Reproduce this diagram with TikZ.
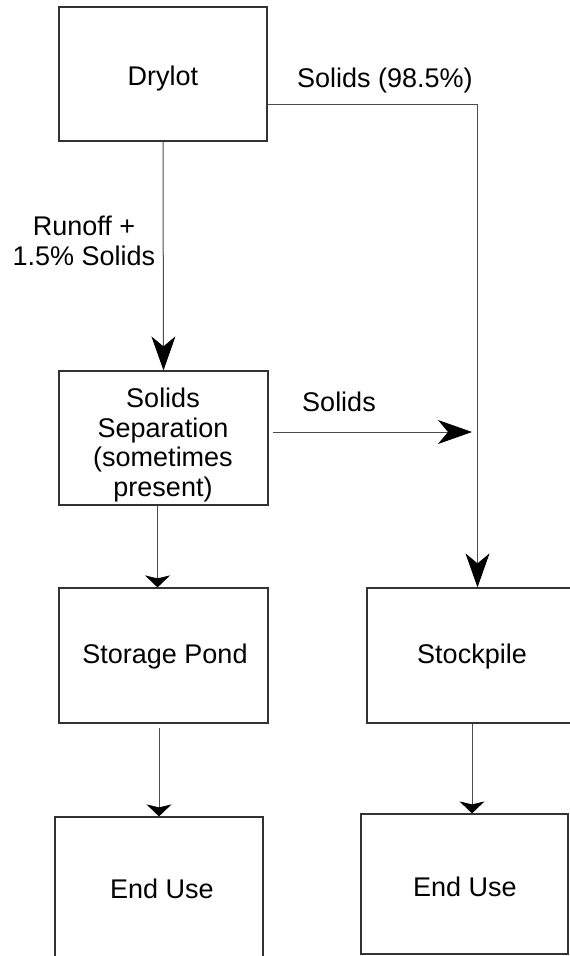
\documentclass[tikz,border=0pt]{standalone}
\usepackage{fontspec}
\setmainfont{Liberation Sans}
\usetikzlibrary{arrows.meta,calc}

\tikzset{
  procbox/.style={draw=black!80, line width=1.2pt, fill=white, inner sep=0pt},
  boxtext/.style={align=center, inner sep=0pt, font=\fontsize{27}{29.5}\selectfont},
  flow/.style={draw=black!70, line width=1pt},
  bigtip/.style={flow, -{Stealth[length=34pt,width=24pt,inset=10pt,color=black]}},
  smalltip/.style={flow, -{Stealth[length=12pt,width=25pt,inset=3pt,color=black]}},
  lbl/.style={align=center, inner sep=0pt, font=\fontsize{27}{30}\selectfont}
}

\begin{document}
\begin{tikzpicture}[x=1pt, y=-1pt]
  \useasboundingbox (0,0) rectangle (570,956);
  \clip (0,0) rectangle (570,956);
  \fill[white] (0,0) rectangle (570,956);

  % process boxes
  \node[procbox, minimum width=208pt, minimum height=134pt] (drylot) at (163,74) {};
  \node[procbox, minimum width=209pt, minimum height=134pt] (sep) at (163.5,438) {};
  \node[procbox, minimum width=209pt, minimum height=135pt] (pond) at (163.5,655.5) {};
  \node[procbox, minimum width=230pt, minimum height=135pt] (stock) at (482,655.5) {};
  \node[procbox, minimum width=208pt, minimum height=180pt] (useL) at (159,907) {};
  \node[procbox, minimum width=207pt, minimum height=140pt] (useR) at (464.5,884) {};

  % box captions
  \node[boxtext] (drylotTxt) at (163,79) {Drylot};
  \node[boxtext] (sepTxt) at (163,445) {Solids\\Separation\\(sometimes\\present)};
  \node[boxtext] (pondTxt) at (165,657) {Storage Pond};
  \node[boxtext] (stockTxt) at (472,657) {Stockpile};
  \node[boxtext] (useLTxt) at (162,889) {End Use};
  \node[boxtext] (useRTxt) at (465,887) {End Use};

  % solids leaving the drylot
  \coordinate (bend) at (477.5,104);
  \draw[bigtip] (drylot.east |- bend) -- (bend) -- (bend |- stock.north);
  \node[lbl] (solidsA) at (385,81) {Solids (98.5\%)};

  % runoff to separation
  \draw[bigtip] (drylot.south) -- (sep.north);
  \node[lbl] (runoff) at (84,241) {Runoff +\\1.5\% Solids};

  % separated solids
  \coordinate (sjoin) at (472,432);
  \draw[bigtip] ([xshift=4pt]sep.east |- sjoin) -- (sjoin);
  \node[lbl] (solidsB) at (339,402) {Solids};

  % liquid path
  \draw[smalltip] ([xshift=-6pt]sep.south) -- ([xshift=-6pt]pond.north);
  \draw[smalltip] ([yshift=-4pt]pond.south -| useL.north) -- (useL.north);
  \draw[smalltip] (stockTxt.south |- stock.south) -- (stockTxt.south |- useR.north);
\end{tikzpicture}
\end{document}
